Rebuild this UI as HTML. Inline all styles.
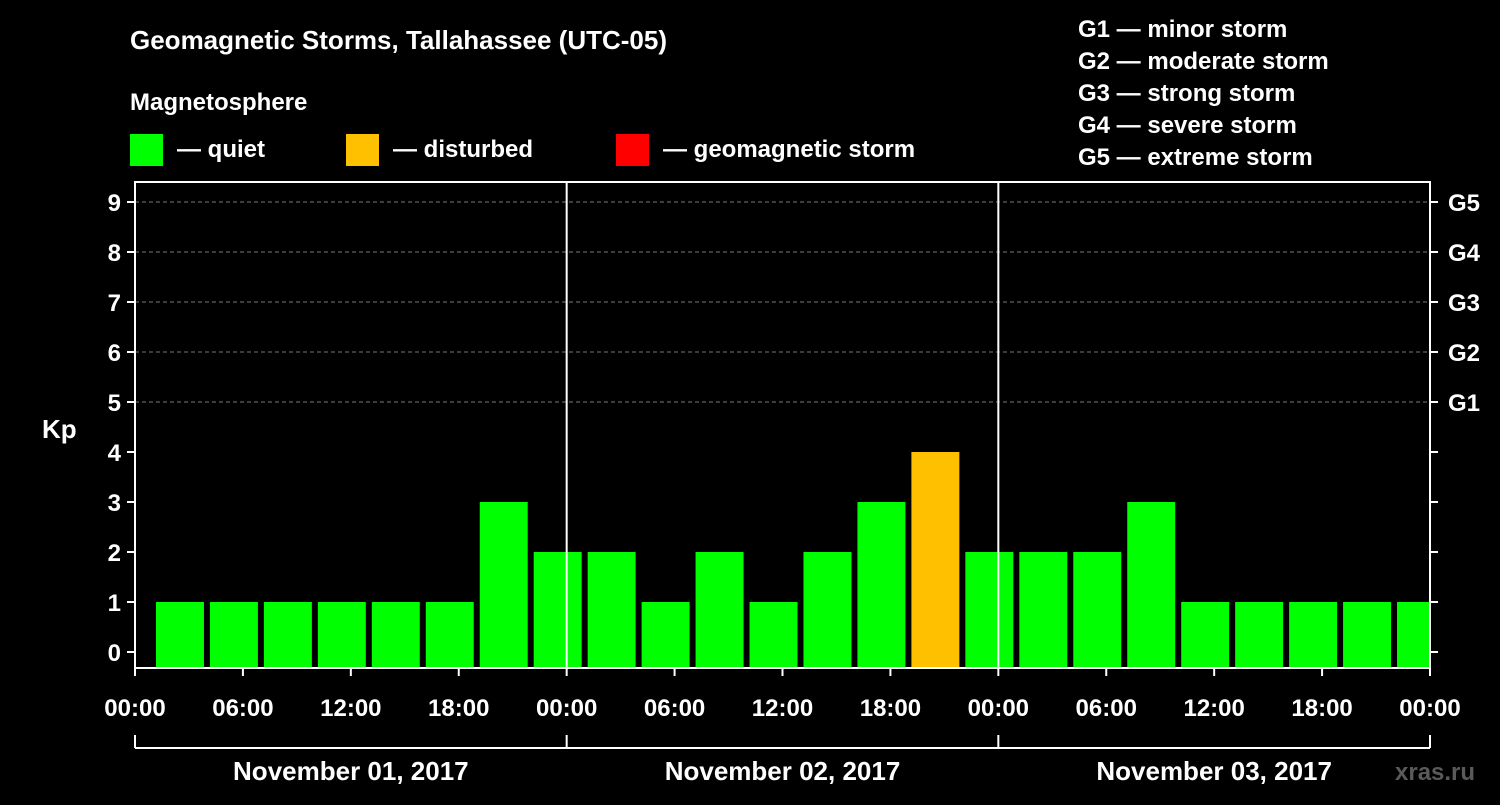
<!DOCTYPE html>
<html><head><meta charset="utf-8"><style>
body{margin:0;background:#000;width:1500px;height:800px;overflow:hidden}
svg text{font-family:"Liberation Sans",Arial,sans-serif;font-weight:bold;fill:#fff}
</style></head><body>
<svg id="chart" width="1500" height="800" xmlns="http://www.w3.org/2000/svg">
<text x="130" y="49" font-size="26">Geomagnetic Storms, Tallahassee (UTC-05)</text>
<text x="130" y="110" font-size="24">Magnetosphere</text>
<g>
<rect x="130" y="134" width="33" height="32" fill="#00ff00"/>
<text x="177" y="157" font-size="24">— quiet</text>
<rect x="346" y="134" width="33" height="32" fill="#ffc000"/>
<text x="393" y="157" font-size="24">— disturbed</text>
<rect x="616" y="134" width="33" height="32" fill="#ff0000"/>
<text x="663" y="157" font-size="24">— geomagnetic storm</text>
</g>
<g font-size="24">
<text x="1078" y="37">G1 — minor storm</text>
<text x="1078" y="69">G2 — moderate storm</text>
<text x="1078" y="101">G3 — strong storm</text>
<text x="1078" y="133">G4 — severe storm</text>
<text x="1078" y="165">G5 — extreme storm</text>
</g>
<text x="42" y="438" font-size="26">Kp</text>
<g id="plot"></g>
<text x="1395" y="780" font-size="24" fill="#666" style="fill:#5a5a5a">xras.ru</text>
</svg>
<script>
const kpValues=[1,1,1,1,1,1,3,2, 2,1,2,1,2,3,4,2, 2,2,3,1,1,1,1,1];
const yTicks=[0,1,2,3,4,5,6,7,8,9];
const gLabels=["G1","G2","G3","G4","G5"];
const xTickLabels=["00:00","06:00","12:00","18:00","00:00","06:00","12:00","18:00","00:00","06:00","12:00","18:00","00:00"];
const dayLabels=["November 01, 2017","November 02, 2017","November 03, 2017"];
const startOffsetHours=1, barHours=3;

const L=135,R=1430,T=182,B=668,hourPx=(R-L)/72;
const x=h=>L+h*hourPx, y=v=>652-v*50;
const NS="http://www.w3.org/2000/svg",g=document.getElementById('plot');
function mk(t,a){const e=document.createElementNS(NS,t);for(const k in a)e.setAttribute(k,a[k]);g.appendChild(e);return e;}
// grid
[5,6,7,8,9].forEach(v=>{const e=mk('line',{x1:L,x2:R,y1:y(v),y2:y(v),stroke:'#777','stroke-dasharray':'4,3'});

});
// bars
kpValues.forEach((v,i)=>{const h0=startOffsetHours+i*barHours;const x0=x(h0)+3;const x1=Math.min(x(h0+barHours)-3,R);
const e=mk('rect',{x:x0,y:y(v),width:x1-x0,height:B-y(v),fill:v>=5?'#ff0000':(v>=4?'#ffc000':'#00ff00')});

});
// frame
const f=mk('rect',{x:L,y:T,width:R-L,height:B-T,fill:'none',stroke:'#fff','stroke-width':2});


[24,48].forEach(h=>{const e=mk('line',{x1:x(h),x2:x(h),y1:T,y2:B,stroke:'#fff','stroke-width':2});

});
// y ticks
yTicks.forEach(v=>{mk('line',{x1:L-8,x2:L,y1:y(v),y2:y(v),stroke:'#fff','stroke-width':2});mk('line',{x1:R,x2:R+8,y1:y(v),y2:y(v),stroke:'#fff','stroke-width':2});
const t=mk('text',{x:L-14,y:y(v)+9,'font-size':24,'text-anchor':'end'});t.textContent=v;

});
gLabels.forEach((s,i)=>{const t=mk('text',{x:R+18,y:y(5+i)+9,'font-size':24});t.textContent=s;

});
// x ticks
xTickLabels.forEach((s,i)=>{const xx=x(i*6);mk('line',{x1:xx,x2:xx,y1:B,y2:B+8,stroke:'#fff','stroke-width':2});
const t=mk('text',{x:xx,y:716,'font-size':24,'text-anchor':'middle'});t.textContent=s;

});
// day bracket
mk('line',{x1:L,x2:R,y1:748,y2:748,stroke:'#fff','stroke-width':2});
[0,24,48,72].forEach(h=>mk('line',{x1:x(h),x2:x(h),y1:735,y2:748,stroke:'#fff','stroke-width':2}));
dayLabels.forEach((s,i)=>{const t=mk('text',{x:x(i*24+12),y:780,'font-size':26,'text-anchor':'middle'});t.textContent=s;

});
</script>
</body></html>
